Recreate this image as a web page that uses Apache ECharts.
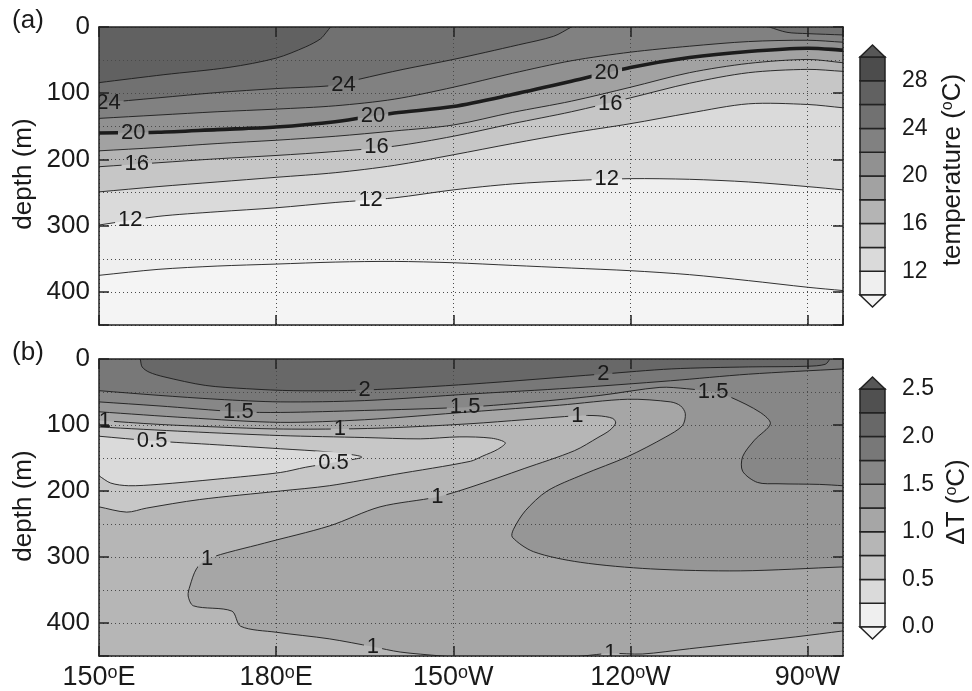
<!DOCTYPE html>
<html>
<head>
<meta charset="utf-8">
<script src="https://cdn.jsdelivr.net/npm/echarts@6/dist/echarts.min.js"></script>
<style>
  html, body { margin: 0; padding: 0; background: #ffffff; }
  #chart { width: 972px; height: 691px; }
</style>
</head>
<body>
<div id="chart"></div>
<script>
// ---------------------------------------------------------------
// Section extents: longitude (deg E) and depth (m)
// ---------------------------------------------------------------
const lonRange = [150, 276];
const depthRange = [0, 450];
const lonTicks = [150, 180, 210, 240, 270];
const lonTickLabels = ['150ºE', '180ºE', '150ºW', '120ºW', '90ºW'];

// ---------------------------------------------------------------
// (a) temperature: shading levels, colours and isotherm depths
// ---------------------------------------------------------------
const tempLevels = [10, 12, 14, 16, 18, 20, 22, 24, 26, 28, 30];
const tempColors = ['#efefef', '#dadada', '#c6c6c6', '#b4b4b4', '#a2a2a2',
                    '#919191', '#818181', '#717171', '#616161', '#4c4c4c'];
const tempUnder = '#f4f4f4';
const tempOver = '#575757';
const tempTickValues = [12, 16, 20, 24, 28];

// isotherms as [longitude, depth] pairs
const iso10 = [[150, 375], [160, 366], [170, 361], [180, 358], [190, 355], [200, 354], [210, 356],
               [220, 360], [230, 364], [240, 368], [250, 374], [260, 383], [270, 393], [276, 398]];
const iso12 = [[150, 299], [160, 286], [170, 279], [180, 273], [190, 265], [200, 258], [210, 246],
               [220, 237], [230, 232], [240, 229], [250, 230], [260, 234], [270, 241], [276, 246]];
const iso14 = [[150, 249], [160, 241], [170, 234], [180, 227], [190, 220], [200, 209], [210, 193],
               [220, 176], [230, 160], [240, 146], [250, 130], [260, 116], [270, 117], [276, 122]];
const iso16 = [[150, 211], [160, 205], [170, 199], [180, 194], [190, 188], [200, 180], [210, 165],
               [220, 146], [230, 128], [240, 107], [250, 85], [260, 69], [270, 64], [276, 67]];
const iso18 = [[150, 187], [160, 182], [170, 176], [180, 171], [190, 165], [200, 157], [210, 148],
               [220, 129], [230, 112], [240, 91], [250, 69], [260, 55], [270, 49], [276, 54]];
const iso20 = [[150, 160], [160, 159], [170, 155], [180, 151], [190, 143], [200, 130], [210, 120],
               [220, 102], [230, 82], [240, 61], [250, 46], [260, 37], [270, 32], [276, 35]];
const iso22 = [[150, 138], [160, 133], [170, 128], [180, 124], [190, 119], [200, 109], [210, 91],
               [220, 70], [230, 51], [240, 38], [250, 29], [260, 22], [270, 20], [276, 23]];
const iso24w = [[150, 115], [160, 107], [170, 99], [180, 93], [190, 88], [194, 79], [201.5, 64],
                [210, 49], [221, 27], [227, 14], [230, 0]];
const iso24e = [[263.5, 0], [266.5, 8], [270, 10], [276, 12]];
const iso26 = [[150, 84], [161, 72], [172, 61], [180, 47], [185, 30], [187.5, 18], [188.5, 8], [189.2, 0]];

// contour labels: [longitude, depth, isotherm]
const tempLabels = [[151.6, 114, 24], [191.4, 87, 24], [155.8, 160, 20], [196.4, 135, 20], [236, 69, 20],
                    [156.4, 207, 16], [197, 181, 16], [236.6, 116, 16], [155.3, 292, 12], [196, 261, 12],
                    [236, 230, 12]];

// ---------------------------------------------------------------
// (b) warming dT: shading levels, colours and contour paths
// ---------------------------------------------------------------
const dTLevels = [0, 0.25, 0.5, 0.75, 1, 1.25, 1.5, 1.75, 2, 2.25, 2.5];
const dTColors = ['#efefef', '#dadada', '#c7c7c7', '#b6b6b6', '#a6a6a6',
                  '#969696', '#878787', '#787878', '#686868', '#505050'];
const dTUnder = '#f6f6f6';
const dTOver = '#575757';
const dTTickValues = [0, 0.5, 1, 1.5, 2, 2.5];

const dT050 = [[150, 117], [159, 124], [170, 130], [180.7, 136], [189, 141], [194.5, 148.5], [189.7, 157],
               [185, 164], [180.7, 172], [170, 182], [160, 190], [155, 192], [152, 188], [150, 177]];
const dT075 = [[150, 103], [165, 110], [180.7, 116], [195, 119], [204.4, 121], [211, 118], [216.5, 120],
               [218.8, 127], [217.5, 137], [215, 147], [212.9, 155], [200, 175], [189, 192], [180.7, 200],
               [167, 213], [158, 226], [154.7, 232], [150, 224]];
const dT100 = [[150, 93], [160, 99], [170, 103], [180, 106], [191, 106], [200, 104], [213, 98], [222, 92],
               [231, 86], [234.5, 86], [237, 90], [237.5, 97], [236.5, 108], [234.5, 119], [230.5, 139],
               [222, 166], [213, 194], [207.3, 209], [197.6, 224], [189, 253], [178, 279], [168.3, 303],
               [166.5, 318], [165.4, 344], [165.1, 359], [166, 374], [172.5, 382], [174, 405], [180, 414],
               [189, 424], [196.4, 436], [201, 444], [208, 450]];
const dT100s = [[232, 450], [236.6, 446], [242, 447], [250, 439], [259, 430], [268, 421], [276, 412]];
const dT125 = [[150, 80], [165, 89], [180.7, 96], [195, 92], [213, 80], [228, 70], [239.5, 61], [246.8, 65],
               [248.5, 71], [249.3, 83], [248.8, 101], [246, 118], [239.5, 148], [232, 175], [225.9, 200],
               [222.2, 230], [220.2, 258], [220, 270], [223.6, 292], [231.5, 308], [243.4, 318],
               [258.6, 321], [276, 315]];
const dT150 = [[150, 65], [160, 71], [173.6, 80], [180.7, 81], [195, 78], [212, 73], [225, 64], [235, 55],
               [245, 43], [249.5, 45], [254, 50], [257, 58], [262, 81], [263.7, 98], [261, 123], [259, 148],
               [259, 170], [261.5, 187], [265, 189], [272, 190], [276, 192]];
const dT175 = [[150, 48], [160, 55], [170, 61], [180.7, 65], [195, 63], [213, 53], [230, 44], [246.8, 33],
               [260, 23], [276, 15]];
const dT200 = [[157, 0], [157.3, 12], [158.5, 20], [161, 27], [168, 40], [175, 45], [183, 48], [195, 47],
               [213, 38], [235, 23], [247, 15], [260, 12], [270, 11], [273, 8], [273.8, 0]];

// contour labels: [longitude, depth, dT]
const dTLabels = [[151, 94, 1], [159, 124, 0.5], [173.6, 80, 1.5], [190.8, 106, 1], [189.7, 157, 0.5],
                  [195, 47, 2], [212, 73, 1.5], [207.3, 209, 1], [231, 86, 1], [235.4, 23, 2],
                  [254, 50, 1.5], [168.3, 303, 1], [196.4, 436, 1], [236.6, 446, 1]];

// ---------------------------------------------------------------
// helpers
// ---------------------------------------------------------------
const FONT = '"Liberation Sans", Arial, Helvetica, sans-serif';
const LABEL_FONT = '22px ' + FONT;
const INK = '#1a1a1a';
const SMOOTH = 0.3;
// off-section anchor points used to close the shaded regions
const FAR = { TL: [110, -150], TR: [320, -150], BR: [320, 600], BL: [110, 600] };

const measureCtx = document.createElement('canvas').getContext('2d');
function textWidth(t, font) { measureCtx.font = font; return measureCtx.measureText(t).width; }

// continue a path one segment past each end so it runs cleanly off the section edge
function extend(pts) {
  const n = pts.length;
  const a = pts[0], b = pts[1], y = pts[n - 1], z = pts[n - 2];
  return [[2 * a[0] - b[0], 2 * a[1] - b[1]]].concat(pts, [[2 * y[0] - z[0], 2 * y[1] - z[1]]]);
}

function bandColor(levels, colors, lv) {
  const i = levels.findIndex(v => Math.abs(v - lv) < 1e-9);
  return colors[i];
}

function superO(s) { return s.replace('º', '{o|o}'); }

// ---------------------------------------------------------------
// shaded regions, contour lines and labels for each section
// ---------------------------------------------------------------
const fillsA = [
  { line: iso10, level: 10, close: ['TR', 'TL'] },
  { line: iso12, level: 12, close: ['TR', 'TL'] },
  { line: iso14, level: 14, close: ['TR', 'TL'] },
  { line: iso16, level: 16, close: ['TR', 'TL'] },
  { line: iso18, level: 18, close: ['TR', 'TL'] },
  { line: iso20, level: 20, close: ['TR', 'TL'] },
  { line: iso22, level: 22, close: ['TR', 'TL'] },
  { line: iso24w, level: 24, close: ['TL'] },
  { line: iso24e, level: 24, close: ['TR'] },
  { line: iso26, level: 26, close: ['TL'] }
].map(f => Object.assign(f, { color: bandColor(tempLevels, tempColors, f.level) }));

const linesA = [
  { line: iso10, level: 10, width: 0.9 }, { line: iso12, level: 12, width: 0.9 },
  { line: iso14, level: 14, width: 0.9 }, { line: iso16, level: 16, width: 0.9 },
  { line: iso18, level: 18, width: 0.9 }, { line: iso20, level: 20, width: 3.6 },
  { line: iso22, level: 22, width: 0.9 }, { line: iso24w, level: 24, width: 0.9 },
  { line: iso24e, level: 24, width: 0.9 }, { line: iso26, level: 26, width: 0.9 }
];

// below-contour regions take the band under the level, above-contour regions the band over it
const fillsB = [
  { line: dT100, color: bandColor(dTLevels, dTColors, 0.75), close: ['BL'] },
  { line: dT100s, color: bandColor(dTLevels, dTColors, 0.75), close: ['BR'] },
  { line: dT075, color: bandColor(dTLevels, dTColors, 0.5), close: [] },
  { line: dT050, color: bandColor(dTLevels, dTColors, 0.25), close: [] },
  { line: dT125, color: bandColor(dTLevels, dTColors, 1.25), close: ['TR', 'TL'] },
  { line: dT150, color: bandColor(dTLevels, dTColors, 1.5), close: ['TR', 'TL'] },
  { line: dT175, color: bandColor(dTLevels, dTColors, 1.75), close: ['TR', 'TL'] },
  { line: dT200, color: bandColor(dTLevels, dTColors, 2), close: [] }
];

const linesB = [
  { line: dT050, level: 0.5 }, { line: dT075, level: 0.75 }, { line: dT100, level: 1 },
  { line: dT100s, level: 1 }, { line: dT125, level: 1.25 }, { line: dT150, level: 1.5 },
  { line: dT175, level: 1.75 }, { line: dT200, level: 2 }
].map(l => Object.assign(l, { width: 0.9 }));

function fillSeries(xi, yi, fills) {
  return {
    type: 'custom', xAxisIndex: xi, yAxisIndex: yi, clip: true, silent: true, z: 2,
    data: fills.map((f, i) => [f.line[0][0], f.line[0][1], i]),
    renderItem: function (params, api) {
      const f = fills[params.dataIndex];
      const pts = extend(f.line).concat(f.close.map(k => FAR[k])).map(p => api.coord(p));
      return { type: 'polygon', shape: { points: pts, smooth: SMOOTH }, style: { fill: f.color, stroke: 'none' } };
    }
  };
}

// each contour is drawn with gaps where its own labels sit
function lineSeries(xi, yi, lines, labels) {
  return {
    type: 'custom', xAxisIndex: xi, yAxisIndex: yi, clip: true, silent: true, z: 8,
    data: lines.map((l, i) => [l.line[0][0], l.line[0][1], i]),
    renderItem: function (params, api) {
      const l = lines[params.dataIndex];
      const pts = extend(l.line).map(p => api.coord(p));
      const a = api.coord([lonRange[0], depthRange[0]]);
      const b = api.coord([lonRange[1], depthRange[1]]);
      const o = [a[0] - 60, a[1] - 60];
      const clip = [o, [b[0] + 60, a[1] - 60], [b[0] + 60, b[1] + 60], [a[0] - 60, b[1] + 60], o];
      labels.filter(d => Math.abs(d[2] - l.level) < 1e-9).forEach(d => {
        const c = api.coord([d[0], d[1]]);
        const hw = textWidth(String(d[2]), LABEL_FONT) / 2 + 3;
        const hh = 11;
        const p0 = [c[0] - hw, c[1] - hh];
        clip.push(p0, [c[0] - hw, c[1] + hh], [c[0] + hw, c[1] + hh], [c[0] + hw, c[1] - hh], p0, o);
      });
      return {
        type: 'polyline', shape: { points: pts, smooth: SMOOTH },
        style: { stroke: '#1c1c1c', lineWidth: l.width, fill: 'none' },
        clipPath: { type: 'polygon', shape: { points: clip } }
      };
    }
  };
}

function labelSeries(xi, yi, labels) {
  return {
    type: 'custom', xAxisIndex: xi, yAxisIndex: yi, clip: true, silent: true, z: 9,
    data: labels.map((d, i) => [d[0], d[1], i]),
    renderItem: function (params, api) {
      const d = labels[params.dataIndex];
      const c = api.coord([d[0], d[1]]);
      return {
        type: 'text', x: c[0], y: c[1],
        style: {
          text: String(d[2]), font: LABEL_FONT, fill: INK,
          align: 'center', verticalAlign: 'middle', textAlign: 'center', textVerticalAlign: 'middle'
        }
      };
    }
  };
}

function colorbarSeries(xi, yi, levels, colors, under, over) {
  const n = colors.length;
  const lo = levels[0], hi = levels[levels.length - 1];
  const items = colors.map((c, i) => [0.5, (levels[i] + levels[i + 1]) / 2, i]).concat([[0.5, hi, n], [0.5, lo, n + 1]]);
  return {
    type: 'custom', xAxisIndex: xi, yAxisIndex: yi, clip: false, silent: true, z: 3,
    data: items,
    renderItem: function (params, api) {
      const i = params.dataIndex;
      const stroke = { stroke: '#222', lineWidth: 1.5 };
      if (i < n) {
        const p0 = api.coord([0, levels[i + 1]]);
        const p1 = api.coord([1, levels[i]]);
        return { type: 'rect', shape: { x: p0[0], y: p0[1], width: p1[0] - p0[0], height: p1[1] - p0[1] },
                 style: Object.assign({ fill: colors[i] }, stroke) };
      }
      const top = i === n;
      const a = api.coord([0, top ? hi : lo]);
      const b = api.coord([1, top ? hi : lo]);
      const tip = [(a[0] + b[0]) / 2, a[1] + (top ? -12 : 12)];
      return { type: 'polygon', shape: { points: [a, b, tip] },
               style: Object.assign({ fill: top ? over : under }, stroke) };
    }
  };
}

// ---------------------------------------------------------------
// axes
// ---------------------------------------------------------------
const frame = { show: true, onZero: false, lineStyle: { color: '#222', width: 1.5 } };
const ticksIn = { show: true, inside: true, length: 10, lineStyle: { color: '#222', width: 1.5 } };
const dotted = { show: true, lineStyle: { color: '#4a4a4a', width: 1, type: [1, 3] } };

function lonAxes(gi, withLabels) {
  return [
    { gridIndex: gi, type: 'value', min: lonRange[0], max: lonRange[1], interval: 30, position: 'bottom', z: 5,
      axisLine: frame, axisTick: ticksIn, splitLine: dotted,
      axisLabel: {
        show: withLabels, margin: 8, showMaxLabel: false,
        fontFamily: FONT, fontSize: 27, color: INK,
        formatter: v => { const k = lonTicks.indexOf(v); return k >= 0 ? superO(lonTickLabels[k]) : ''; },
        rich: { o: { fontFamily: FONT, fontSize: 18, verticalAlign: 'top', color: INK } }
      } },
    { gridIndex: gi, type: 'value', min: lonRange[0], max: lonRange[1], interval: 30, position: 'top', z: 5,
      axisLine: frame, axisTick: ticksIn, splitLine: { show: false }, axisLabel: { show: false } }
  ];
}

function depthAxes(gi) {
  return [
    { gridIndex: gi, type: 'value', inverse: true, min: depthRange[0], max: depthRange[1], interval: 50,
      position: 'left', z: 5, axisLine: frame, axisTick: { show: false }, splitLine: dotted,
      axisLabel: { margin: 9, showMaxLabel: false, fontFamily: FONT, fontSize: 26, color: INK,
        formatter: v => (v % 100 === 0 && v <= 400 ? String(v) : '') } },
    { gridIndex: gi, type: 'value', inverse: true, min: depthRange[0], max: depthRange[1], interval: 100,
      position: 'left', z: 5, axisLine: { show: false }, axisTick: ticksIn,
      splitLine: { show: false }, axisLabel: { show: false } },
    { gridIndex: gi, type: 'value', inverse: true, min: depthRange[0], max: depthRange[1], interval: 100,
      position: 'right', z: 5, axisLine: frame, axisTick: ticksIn,
      splitLine: { show: false }, axisLabel: { show: false } }
  ];
}

function barAxis(gi, levels, tickValues, fmt) {
  return { gridIndex: gi, type: 'value', position: 'right', min: levels[0], max: levels[levels.length - 1],
           interval: levels[1] - levels[0],
           axisLine: { show: false }, axisTick: { show: false }, splitLine: { show: false },
           axisLabel: { margin: 17, fontFamily: FONT, fontSize: 23, color: INK, showMinLabel: true, showMaxLabel: true,
             formatter: v => (tickValues.some(t => Math.abs(t - v) < 1e-9) ? fmt(v) : '') } };
}

// ---------------------------------------------------------------
// chart
// ---------------------------------------------------------------
const chart = echarts.init(document.getElementById('chart'), null, { renderer: 'canvas' });

const xAxes = [].concat(
  lonAxes(0, false),                 // 0, 1
  lonAxes(1, true),                  // 2, 3
  [{ gridIndex: 2, type: 'value', min: 0, max: 1, show: false },   // 4
   { gridIndex: 3, type: 'value', min: 0, max: 1, show: false }]   // 5
);
const yAxes = [].concat(
  depthAxes(0),                      // 0, 1, 2
  depthAxes(1),                      // 3, 4, 5
  [barAxis(2, tempLevels, tempTickValues, v => String(v)),          // 6
   barAxis(3, dTLevels, dTTickValues, v => v.toFixed(1))]           // 7
);

const richO = { o: { fontFamily: FONT, fontSize: 16, verticalAlign: 'top', fill: INK } };
function sideText(x, y, text, rotated) {
  return { type: 'text', x: x, y: y, rotation: rotated ? Math.PI / 2 : 0, silent: true,
           style: { text: text, font: '26px ' + FONT, fill: INK,
                    align: 'center', verticalAlign: 'middle', textAlign: 'center', textVerticalAlign: 'middle',
                    rich: richO } };
}

chart.setOption({
  animation: false,
  backgroundColor: '#ffffff',
  grid: [
    { left: 99, top: 27, width: 744, height: 298, show: true, backgroundColor: tempUnder, borderWidth: 0 },
    { left: 99, top: 359, width: 744, height: 298, show: true, backgroundColor: bandColor(dTLevels, dTColors, 1), borderWidth: 0 },
    { left: 860, top: 57, width: 25, height: 238 },
    { left: 860, top: 389, width: 25, height: 238 }
  ],
  xAxis: xAxes,
  yAxis: yAxes,
  graphic: [
    sideText(28, 21, '(a)', false),
    sideText(28, 353, '(b)', false),
    sideText(24, 174, 'depth (m)', true),
    sideText(24, 506, 'depth (m)', true),
    sideText(953, 170, 'temperature ({o|o}C)', true),
    sideText(957, 502, 'ΔT ({o|o}C)', true)
  ],
  series: [
    fillSeries(0, 0, fillsA),
    lineSeries(0, 0, linesA, tempLabels),
    labelSeries(0, 0, tempLabels),
    fillSeries(2, 3, fillsB),
    lineSeries(2, 3, linesB, dTLabels),
    labelSeries(2, 3, dTLabels),
    colorbarSeries(4, 6, tempLevels, tempColors, tempUnder, tempOver),
    colorbarSeries(5, 7, dTLevels, dTColors, dTUnder, dTOver)
  ]
});
</script>
</body>
</html>
